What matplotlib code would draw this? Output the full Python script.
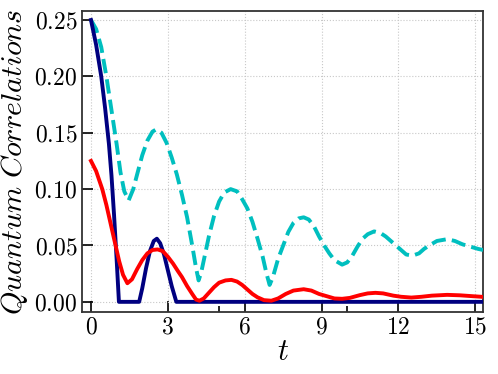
import numpy as np
import matplotlib
matplotlib.use('Agg')
import matplotlib.pyplot as plt
from matplotlib.ticker import MultipleLocator, FixedLocator

plt.rcParams['mathtext.fontset'] = 'cm'
plt.rcParams['font.family'] = 'serif'
plt.rcParams['font.serif'] = ['cmr10', 'DejaVu Serif']
plt.rcParams['axes.formatter.use_mathtext'] = True

# values
t_navy = [0.0, 0.2, 0.4, 0.55, 0.7, 0.8, 0.9, 1.0, 1.09, 1.88, 2.0, 2.15, 2.3,
          2.45, 2.57, 2.7, 2.85, 3.0, 3.15, 3.33, 15.3]
v_navy = [0.250, 0.228, 0.200, 0.172, 0.140, 0.112, 0.077, 0.038, 0.0, 0.0, 0.012,
          0.030, 0.045, 0.054, 0.056, 0.052, 0.042, 0.028, 0.014, 0.0, 0.0]

t_cyan = [0.0, 0.2, 0.4, 0.6, 0.8, 1.0, 1.15, 1.3, 1.47, 1.65, 1.8, 2.0, 2.2, 2.4,
          2.55, 2.75, 2.95, 3.15, 3.35, 3.55, 3.75, 3.95, 4.1, 4.2, 4.3, 4.45, 4.6,
          4.8, 5.0, 5.2, 5.45, 5.7, 5.9, 6.1, 6.3, 6.5, 6.7, 6.85, 6.97, 7.1, 7.3,
          7.5, 7.7, 7.9, 8.1, 8.3, 8.5, 8.7, 8.9, 9.1, 9.3, 9.5, 9.8, 10.0, 10.2,
          10.4, 10.6, 10.8, 11.05, 11.3, 11.5, 11.7, 11.9, 12.1, 12.3, 12.55, 12.8,
          13.0, 13.2, 13.5, 13.9, 14.2, 14.5, 14.8, 15.1, 15.3]
v_cyan = [0.250, 0.242, 0.226, 0.200, 0.170, 0.140, 0.115, 0.098, 0.090, 0.100,
          0.113, 0.130, 0.143, 0.151, 0.153, 0.150, 0.141, 0.128, 0.113, 0.095,
          0.075, 0.050, 0.030, 0.019, 0.026, 0.042, 0.058, 0.076, 0.089, 0.097,
          0.100, 0.098, 0.091, 0.083, 0.071, 0.056, 0.040, 0.025, 0.015, 0.022,
          0.038, 0.050, 0.062, 0.070, 0.074, 0.075, 0.073, 0.067, 0.058, 0.050,
          0.043, 0.037, 0.033, 0.035, 0.041, 0.049, 0.056, 0.060, 0.0625, 0.061,
          0.058, 0.054, 0.050, 0.046, 0.042, 0.041, 0.043, 0.047, 0.050, 0.054,
          0.0556, 0.054, 0.051, 0.049, 0.047, 0.046]

t_red = [0.0, 0.2, 0.44, 0.6, 0.8, 0.96, 1.1, 1.25, 1.42, 1.6, 1.8, 2.0, 2.2, 2.4,
         2.6, 2.8, 3.0, 3.2, 3.4, 3.55, 3.75, 3.95, 4.1, 4.23, 4.4, 4.6, 4.8, 5.0,
         5.25, 5.48, 5.7, 5.9, 6.1, 6.3, 6.5, 6.75, 7.04, 7.3, 7.6, 7.9, 8.3, 8.6,
         8.9, 9.2, 9.5, 9.8, 10.1, 10.5, 10.8, 11.1, 11.4, 11.8, 12.1, 12.5, 12.9,
         13.3, 13.9, 14.4, 14.9, 15.3]
v_red = [0.125, 0.116, 0.100, 0.086, 0.066, 0.050, 0.036, 0.024, 0.0165, 0.020,
         0.029, 0.037, 0.043, 0.046, 0.0465, 0.045, 0.040, 0.034, 0.027, 0.022,
         0.014, 0.007, 0.002, 0.001, 0.003, 0.008, 0.013, 0.017, 0.019, 0.0195,
         0.018, 0.015, 0.011, 0.007, 0.004, 0.0015, 0.001, 0.003, 0.007, 0.010,
         0.0112, 0.010, 0.007, 0.005, 0.003, 0.0027, 0.0035, 0.006, 0.0075, 0.008,
         0.0075, 0.0055, 0.0045, 0.0038, 0.0045, 0.0055, 0.0062, 0.0058, 0.005,
         0.0044]

fig = plt.figure(figsize=(4.98, 3.74), dpi=100)
ax = fig.add_axes([0.1647, 0.1658, 0.8053, 0.8048])

ax.plot(t_cyan, v_cyan, color='c', lw=2.8, ls='--', zorder=3)
ax.plot(t_navy, v_navy, color='navy', lw=2.8, zorder=4)
ax.plot(t_red, v_red, color='r', lw=2.8, zorder=5)

ax.set_xlim(-0.35, 15.3)
ax.set_ylim(-0.009, 0.258)
ax.xaxis.set_major_locator(MultipleLocator(3))
ax.xaxis.set_minor_locator(FixedLocator([5, 10]))
ax.yaxis.set_major_locator(MultipleLocator(0.05))
ax.grid(True, color='#c8c8c8', ls=':', lw=0.8)
ax.tick_params(which='both', direction='in', labelsize=17, top=False, right=False)
ax.tick_params(which='major', length=8, width=1.2)
ax.tick_params(which='minor', length=4, width=1.2)
for s in ax.spines.values():
    s.set_linewidth(1.3)
    s.set_color('#333333')

ax.set_xlabel(r'$t$', fontsize=22, labelpad=0)
ax.set_ylabel(r'$Quantum\ Correlations$', fontsize=21.5, labelpad=3)

plt.savefig('out.png', dpi=100)
